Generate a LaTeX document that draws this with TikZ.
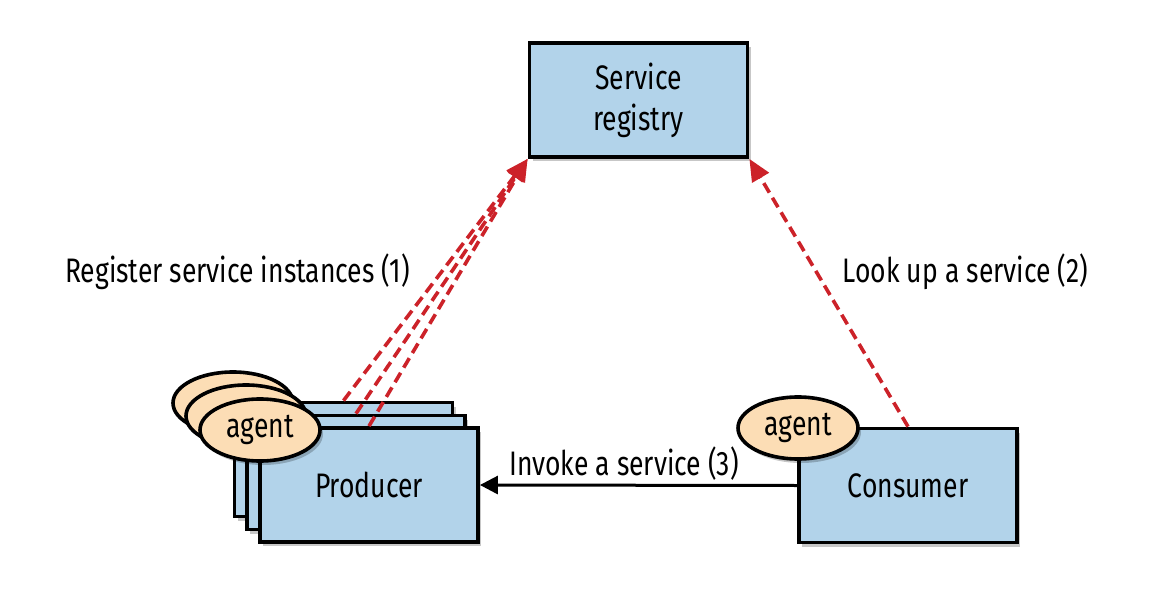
\documentclass[tikz,border=0pt]{standalone}
\usepackage{fontspec}
\setmainfont{Fira Sans}[FakeStretch=0.78]
\usetikzlibrary{shapes.geometric,shadows,arrows.meta}
\definecolor{boxblue}{HTML}{B2D3EA}
\definecolor{peach}{HTML}{FCDDB5}
\definecolor{arrowred}{HTML}{CC2229}
\tikzset{
  shadowed/.style={drop shadow={shadow xshift=3pt,shadow yshift=-4pt,opacity=0.22,fill=black}},
  svcbox/.style={draw=black,line width=3.8pt,fill=boxblue,shadowed,inner sep=0pt,
    minimum width=218pt,minimum height=114pt,font=\fontsize{34}{41}\selectfont,align=center},
  agentell/.style={ellipse,draw=black,line width=3.6pt,fill=peach,shadowed,inner sep=0pt,
    minimum width=120pt,minimum height=62pt,font=\fontsize{34}{40}\selectfont},
  lbl/.style={font=\fontsize{34}{40}\selectfont,anchor=base,inner sep=0pt},
  regarrow/.style={draw=arrowred,line width=3.6pt,dash pattern=on 11pt off 6pt,
    -{Triangle[length=22pt,width=19pt]}},
  callarrow/.style={draw=black,line width=3pt,-{Triangle[length=18pt,width=18pt]}}
}
\begin{document}
\begin{tikzpicture}[x=1pt,y=-1pt]
\useasboundingbox (0,0) rectangle (1158,604);
\node[svcbox] (reg) at (638.5,100) {Service\\registry};
\node[svcbox] (prodC) at (343.5,459.5) {};
\node[svcbox] (prodB) at (356,472.5) {};
\node[svcbox] (prod) at (369,485) {Producer};
\node[svcbox] (cons) at (908,485.5) {Consumer};
\node[agentell] (agC) at (233,403) {};
\node[agentell] (agB) at (246,416) {};
\node[agentell] (ag) at (260,430) {agent};
\node[agentell] (agcons) at (798,428) {agent};
\draw[regarrow] (prodC.north) -- (reg.south west);
\draw[regarrow] (prodB.north) -- (reg.south west);
\draw[regarrow] (prod.north) -- (reg.south west);
\draw[regarrow] (cons.north) -- (reg.south east);
\draw[callarrow] (cons.west) -- (prod.east);
\node[lbl] (l1) at (237.5,282) {Register service instances (1)};
\node[lbl] (l2) at (965.5,282) {Look up a service (2)};
\node[lbl] (l3) at (624,475) {Invoke a service (3)};
\end{tikzpicture}
\end{document}
